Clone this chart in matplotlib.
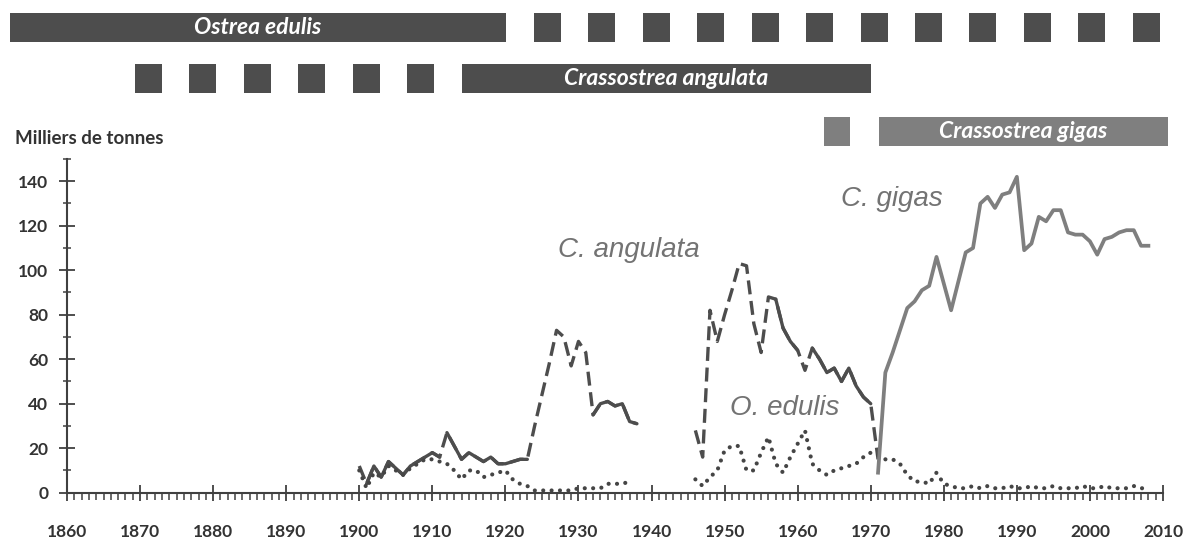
import numpy as np
import matplotlib.pyplot as plt
from matplotlib.ticker import MultipleLocator

# Données (milliers de tonnes)
ang_years = list(range(1900, 1939)) + list(range(1946, 1972))
ang_vals = [12, 4, 12, 7, 14, 11, 8, 12, 14, 16, 18, 16, 27, 21, 15, 18, 16, 14, 16, 13,
            13, 14, 15, 15, 30, 44, 58, 73, 70, 57, 68, 63, 35, 40, 41, 39, 40, 32, 31,
            28, 16, 82, 68, 80, 91, 103, 102, 76, 63, 88, 87, 74, 68, 64, 55, 65, 60,
            54, 56, 50, 56, 48, 43, 40, 15]
# portions en trait plein de la courbe C. angulata (le reste en tirets)
ang_solid = [(1901, 1911), (1912, 1923), (1932, 1938), (1957, 1960), (1962, 1970)]

edu_years = list(range(1900, 1938)) + list(range(1946, 2009))
edu_vals = [10, 2, 9, 7, 12, 10, 8, 11, 13, 15, 15, 14, 13, 10, 6, 10, 10, 7, 8, 9,
            10, 6, 4, 3, 1, 1, 1, 1, 1, 1, 2, 2, 2, 2, 4, 4, 4, 5,
            6, 3, 7, 10, 19, 21, 21, 10, 10, 18, 25, 13, 9, 16, 22, 28, 13, 10, 8, 10,
            11, 12, 13, 16, 18, 17, 15, 15, 13, 8, 5, 5, 4, 9, 4,
            3, 2, 2, 3, 2, 3, 2, 2, 3, 2, 2, 3, 2, 2, 3, 2, 2, 2, 3, 2, 2, 3, 2, 2, 2, 3, 2, 2]

gig_years = list(range(1971, 2009))
gig_vals = [9, 54, 63, 73, 83, 86, 91, 93, 106, 94, 82, 95, 108, 110, 130, 133, 128, 134,
            135, 142, 109, 112, 124, 122, 127, 127, 117, 116, 116, 113, 107, 114, 115, 117,
            118, 118, 111, 111]

# Périodes des bandeaux du haut (début, fin)
edulis_main = (1852.2, 1920.1)
edulis_sporadic = (1923.9, 2009.6)
angulata_sporadic = (1869.3, 1910.4)
angulata_main = (1914.0, 1970.1)
gigas_test = (1963.6, 1967.2)
gigas_main = (1971.1, 2010.7)

dark = '#4d4d4d'
mid = '#7f7f7f'

fig = plt.figure(figsize=(11.9, 5.41), dpi=100)
ax = fig.add_axes([67 / 1190, 1 - 492.7 / 541, (1163 - 67) / 1190, (492.7 - 159) / 541])

# trous dans les séries
def with_gap(x, y, gap_after):
    x = list(x); y = list(y)
    i = x.index(gap_after) + 1
    x.insert(i, np.nan); y.insert(i, np.nan)
    return np.array(x, float), np.array(y, float)

ang_x = np.array(ang_years, dtype=float)
ang_y = np.array(ang_vals, dtype=float)
gx, gy = with_gap(ang_years, ang_vals, 1938)
ax.plot(gx, gy, color=dark, lw=2.4, dashes=(4.2, 2), dash_capstyle='butt')
for a, b in ang_solid:
    m = (ang_x >= a) & (ang_x <= b)
    ax.plot(ang_x[m], ang_y[m], color=dark, lw=2.4, solid_capstyle='round')

ex, ey = with_gap(edu_years, edu_vals, 1937)
ax.plot(ex, ey, color='#454545', lw=3.0, linestyle=(0, (0.01, 2.0)), dash_capstyle='round')

ax.plot(gig_years, gig_vals, color=mid, lw=2.7)

lab = dict(style='italic', color='#737373', fontsize=20, family='Liberation Sans',
           ha='center', va='center')
ax.text(1936.9, 109, 'C. angulata', **lab)
ax.text(1972.9, 132, 'C. gigas', **lab)
ax.text(1958.2, 38, 'O. edulis', **lab)

ax.set_xlim(1860, 2010)
ax.set_ylim(0, 150)
ax.set_xticks(range(1860, 2011, 10))
ax.set_yticks(range(0, 141, 20))
ax.xaxis.set_minor_locator(MultipleLocator(1))
ax.yaxis.set_minor_locator(MultipleLocator(10))
for s in ['top', 'right']:
    ax.spines[s].set_visible(False)
for s in ['left', 'bottom']:
    ax.spines[s].set_color('#404040')
    ax.spines[s].set_linewidth(1.5)
ax.tick_params(axis='x', which='major', direction='inout', length=11, width=1.3,
               color='#404040', pad=17)
ax.tick_params(axis='x', which='minor', direction='out', length=5, width=1.1, color='#404040')
ax.tick_params(axis='y', which='major', direction='inout', length=11, width=1.3,
               color='#404040', pad=8)
ax.tick_params(axis='y', which='minor', direction='inout', length=6, width=1.1, color='#404040')
for t in ax.get_xticklabels() + ax.get_yticklabels():
    t.set_fontfamily('Lato')
    t.set_fontweight('bold')
    t.set_fontsize(12.5)
    t.set_color('#333333')

fig.text(15 / 1190, 1 - 138 / 541, 'Milliers de tonnes', family='Lato', fontweight='bold',
         fontsize=13.5, color='#333333', va='center', ha='left')

# Bandeaux des espèces
top = fig.add_axes([0, 1 - 150 / 541, 1, 150 / 541])
px_per_year = (1163 - 67) / 150
top.set_xlim(1860 - 67 / px_per_year, 2010 + (1190 - 1163) / px_per_year)
top.set_ylim(2.4, -0.54)
top.axis('off')
h = 0.57
sq_w, sq_step = 3.7, 7.45

def solid_bar(row, span, color, text=None):
    top.broken_barh([(span[0], span[1] - span[0])], (row - h / 2, h), facecolor=color)
    if text:
        top.text((span[0] + span[1]) / 2, row, text, color='white', style='italic',
                 fontweight='bold', family='Lato', fontsize=16.5, ha='center', va='center')

def squares(row, span, color):
    starts = np.arange(span[0], span[1] - sq_w + 0.01, sq_step)
    top.broken_barh([(s, sq_w) for s in starts], (row - h / 2, h), facecolor=color)

solid_bar(0, edulis_main, dark, 'Ostrea edulis')
squares(0, edulis_sporadic, dark)
squares(1, angulata_sporadic, dark)
solid_bar(1, angulata_main, dark, 'Crassostrea angulata')
solid_bar(2.03, gigas_test, mid)
solid_bar(2.03, gigas_main, mid, 'Crassostrea gigas')

fig.savefig('out.png', dpi=100)
